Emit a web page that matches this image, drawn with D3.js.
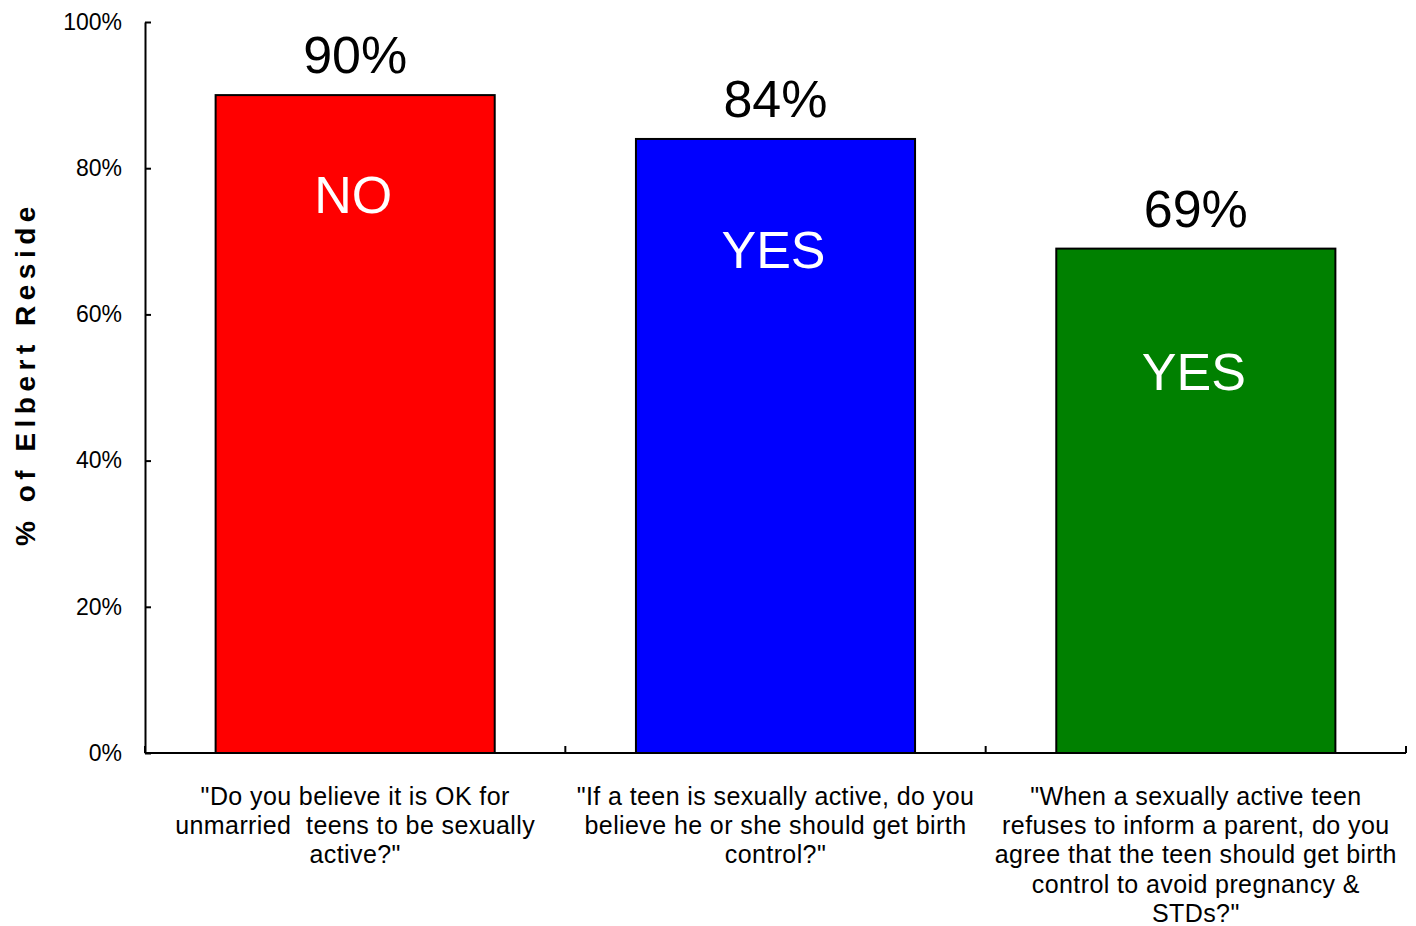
<!DOCTYPE html>
<html><head><meta charset="utf-8">
<script src="https://cdn.jsdelivr.net/npm/d3@7"></script>
<style>html,body{margin:0;padding:0;background:#fff;} svg{display:block;font-family:"Liberation Sans",Arial,sans-serif;} .pre{white-space:pre;}</style>
</head><body>
<svg id="chart" width="1416" height="926"></svg>
<script>
// ---- data ----
const categories = ["q1", "q2", "q3"];
const categoryLines = [
  ["\"Do you believe it is OK for", "unmarried  teens to be sexually", "active?\""],
  ["\"If a teen is sexually active, do you", "believe he or she should get birth", "control?\""],
  ["\"When a sexually active teen", "refuses to inform a parent, do you", "agree that the teen should get birth", "control to avoid pregnancy &", "STDs?\""]
];
const values = [90, 84, 69];
const answers = ["NO", "YES", "YES"];
const answerAnchor = [73.9, 66.4, 49.7]; // y-position (in % units) of answer label baselines
const yTicks = [0, 20, 40, 60, 80, 100];
const yTitle = "% of Elbert Residents";
const colors = ["#FF0000", "#0000FF", "#008000"];

// ---- layout ----
const svg = d3.select("#chart");
const mLeft = 145, mRight = 1406, mTop = 22, mBottom = 753;

const x = d3.scaleBand().domain(categories).range([mLeft, mRight])
  .paddingInner(0.336).paddingOuter(0.168);
const y = d3.scaleLinear().domain([0, 100]).range([mBottom, mTop]);

// y axis
const yAxis = d3.axisLeft(y).tickValues(yTicks).tickFormat(d => d + "%")
  .tickSizeInner(-6).tickSizeOuter(0).tickPadding(23);
const gy = svg.append("g").attr("transform", `translate(${mLeft},0)`).call(yAxis);
gy.select(".domain").attr("stroke", "#000").attr("stroke-width", 2);
gy.selectAll(".tick line").attr("stroke", "#000").attr("stroke-width", 2);
gy.selectAll(".tick text").attr("font-size", 23).attr("fill", "#000")
  .attr("font-family", "'Liberation Sans',Arial,sans-serif");

// bars
svg.append("g").selectAll("rect").data(values).join("rect")
  .attr("x", (d, i) => x(categories[i]))
  .attr("y", d => y(d))
  .attr("width", x.bandwidth())
  .attr("height", d => y(0) - y(d))
  .attr("fill", (d, i) => colors[i])
  .attr("stroke", "#000").attr("stroke-width", 2);

// x axis
svg.append("line").attr("x1", mLeft).attr("x2", mRight).attr("y1", y(0)).attr("y2", y(0))
  .attr("stroke", "#000").attr("stroke-width", 2);
const bounds = d3.range(categories.length + 1).map(i => mLeft + i * x.step());
svg.append("g").selectAll("line").data(bounds).join("line")
  .attr("x1", d => d).attr("x2", d => d).attr("y1", y(0)).attr("y2", y(0) - 7)
  .attr("stroke", "#000").attr("stroke-width", 2);

// value labels
svg.append("g").selectAll("text").data(values).join("text")
  .attr("x", (d, i) => x(categories[i]) + x.bandwidth() / 2)
  .attr("y", d => y(d) - 22)
  .attr("text-anchor", "middle").attr("font-size", 52).attr("fill", "#000")
  .text(d => d + "%");

// answer labels
svg.append("g").selectAll("text").data(answers).join("text")
  .attr("x", (d, i) => x(categories[i]) + x.bandwidth() / 2 - 2)
  .attr("y", (d, i) => y(answerAnchor[i]))
  .attr("text-anchor", "middle").attr("font-size", 52).attr("fill", "#fff")
  .text(d => d);

// category labels
const cl = svg.append("g").selectAll("text").data(categoryLines).join("text")
  .attr("class", "pre")
  .attr("text-anchor", "middle").attr("font-size", 25).attr("letter-spacing", 0.4)
  .attr("fill", "#000");
cl.each(function(lines, i) {
  const cx = x(categories[i]) + x.bandwidth() / 2;
  d3.select(this).selectAll("tspan").data(lines).join("tspan")
    .attr("x", cx).attr("y", (l, j) => y(0) + 52 + j * 29.2).text(l => l);
});

// y title (clipped like the original)
svg.append("clipPath").attr("id", "ytclip").append("rect")
  .attr("x", 0).attr("y", 200).attr("width", 60).attr("height", 400);
svg.append("g").attr("clip-path", "url(#ytclip)")
  .append("text")
  .attr("transform", "translate(35,546) rotate(-90)")
  .attr("font-size", 28).attr("font-weight", "bold").attr("letter-spacing", 5.5)
  .attr("fill", "#000")
  .text(yTitle);
</script>
</body></html>
